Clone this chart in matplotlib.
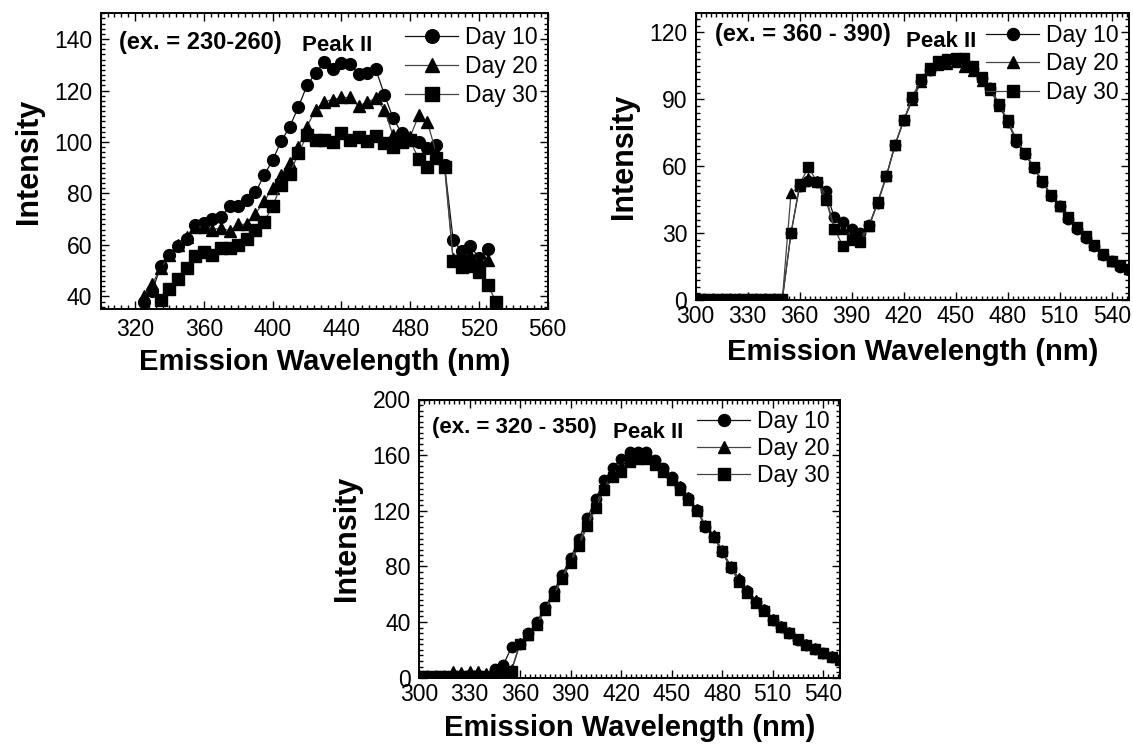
import matplotlib
matplotlib.use("Agg")
import matplotlib.pyplot as plt
from matplotlib.ticker import MultipleLocator, AutoMinorLocator

plt.rcParams['font.family'] = ['Liberation Sans', 'DejaVu Sans']

# ---------------- Panel 1: ex. = 230-260 ----------------
p1_x_d10 = [325, 330, 335, 340, 345, 350, 355, 360, 365, 370, 375, 380, 385, 390, 395, 400,
            405, 410, 415, 420, 425, 430, 435, 440, 445, 450, 455, 460, 465, 470, 475, 480,
            485, 490, 495, 500, 505, 510, 515, 520, 525]
p1_day10 = [38, 42, 52, 56, 59.7, 62.5, 67.7, 68.5, 70, 71, 75, 75, 77.5, 80.4, 87, 93,
            100.3, 106, 113.6, 122, 126.8, 131, 128.5, 130.6, 130.4, 126.5, 127, 128.3, 118.4,
            109.4, 103.5, 100.6, 100, 97.8, 98.7, 91, 62, 57.5, 59.5, 55, 58.5]
p1_x_d20 = p1_x_d10
p1_day20 = [40, 45, 51, 56, 60, 63, 67, 67, 66, 66.5, 65.5, 68, 68, 72, 77, 82, 87, 92, 98,
            106, 112.6, 115.6, 116.5, 117.3, 117.3, 113.9, 115.6, 116.9, 112.6, 102.6, 101,
            102, 110.4, 107.8, 96.1, 91, 54.6, 56.5, 56, 53.9, 54.2]
p1_x_d30 = [335, 340, 345, 350, 355, 360, 365, 370, 375, 380, 385, 390, 395, 400, 405, 410,
            415, 420, 425, 430, 435, 440, 445, 450, 455, 460, 465, 470, 475, 480, 485, 490,
            495, 500, 505, 510, 515, 520, 525, 530]
p1_day30 = [38.5, 43, 46.8, 51, 55.9, 57.4, 56.1, 58.7, 58.7, 60, 62.3, 65.8, 69, 75, 83.4,
            87.7, 95.6, 102.7, 100.7, 100.7, 100, 103.5, 100.6, 102, 100.5, 102.3, 99.8, 98.2,
            100.1, 100.6, 93.3, 90.4, 93.6, 90.4, 53.9, 51.6, 52, 49.5, 44.5, 38]

# ---------------- Panels 2 & 3 share wavelength grid ----------------
wl = [300, 305, 310, 315, 320, 325, 330, 335, 340, 345, 350, 355, 360, 365, 370, 375, 380,
      385, 390, 395, 400, 405, 410, 415, 420, 425, 430, 435, 440, 445, 450, 455, 460, 465,
      470, 475, 480, 485, 490, 495, 500, 505, 510, 515, 520, 525, 530, 535, 540, 545, 550]

# Panel 2: ex. = 360 - 390
p2_day10 = [0.5, 0.5, 0.5, 0.5, 0.5, 0.5, 0.5, 0.5, 0.5, 0.5, 0.5, 30, 51, 53.5, 53, 49, 37,
            35, 32, 30, 33.5, 43.5, 55.5, 69.5, 80.5, 90, 98, 103, 106, 107.5, 107.5, 106.5,
            103.5, 99.5, 95, 87.5, 80, 71, 65.5, 59, 53, 46.5, 42, 36.5, 32, 28, 24, 20, 17.5,
            15, 13.5]
p2_day20 = [0.5, 0.5, 0.5, 0.5, 0.5, 0.5, 0.5, 0.5, 0.5, 0.5, 0.5, 48, 51, 54.5, 53.5, 47, 32,
            32, 29, 28, 33, 43.5, 55.5, 69.5, 80.5, 89.5, 97.5, 103, 105.5, 106, 106.5, 104.5,
            102.5, 98, 94, 87, 80, 71.5, 66, 59.5, 53.5, 47, 42, 37, 32.5, 28.5, 24.5, 20.5,
            17.5, 15.5, 14]
p2_day30 = [0.5, 0.5, 0.5, 0.5, 0.5, 0.5, 0.5, 0.5, 0.5, 0.5, 0.5, 30, 52, 59.5, 53, 45, 32,
            24, 27, 26, 33, 44, 55.5, 69.5, 80.5, 91, 99, 104, 107, 108, 108.5, 108.5, 105,
            100, 95, 88, 80.5, 72, 66, 59.5, 53.5, 47, 42, 37, 32.5, 28.5, 24.5, 20.5, 17.5,
            15.5, 14]

# Panel 3: ex. = 320 - 350
p3_day10 = [1.5, 1.5, 1.5, 1.5, 1.5, 1.5, 1.5, 1.5, 1.5, 6.5, 9, 22, 24.5, 32, 40, 51, 62, 74,
            86, 99.5, 115, 128.5, 142, 150.5, 157.5, 162, 162, 162, 156.5, 150.5, 144.5, 137,
            129.5, 120.5, 108.5, 101, 90.5, 79, 70, 62, 54.5, 48.5, 41.5, 36.5, 32, 27, 23.5,
            20.5, 17.5, 15, 13]
p3_day20 = [1.5, 1.5, 1.5, 1.5, 5, 4, 5, 4.5, 3.5, 4, 6, 6, 25, 31, 39, 50, 60, 72.5, 84, 97,
            111, 125, 137, 146, 153, 158, 159, 159, 155, 150, 144, 137.5, 130, 121, 110, 102.5,
            92, 80.5, 71.5, 63, 56, 49.5, 42.5, 37.5, 33, 28, 24.5, 21, 18, 15.5, 13.5]
p3_day30 = [1.5, 1.5, 1.5, 1.5, 1.5, 1.5, 1.5, 1.5, 1.5, 3, 5, 5, 24, 30.5, 38, 49, 59, 71,
            82.5, 95, 109, 122, 135, 144, 148, 155, 157, 157, 153, 148, 142, 135, 128, 120,
            109, 101, 91, 79.5, 69, 61, 54, 48, 41.5, 36.5, 32, 27.5, 23.5, 20.5, 17.5, 15, 13]

labels = ["Day 10", "Day 20", "Day 30"]
markers = ["o", "^", "s"]
line_colors = ["#111111", "#444444", "#444444"]

W, H = 1133, 745
fig = plt.figure(figsize=(W / 100, H / 100), dpi=100)


def make_axes(l, r, t, b):
    return fig.add_axes([l / W, 1 - b / H, (r - l) / W, (b - t) / H])


def style(ax, xlim, ylim, xmaj, ymaj, xpad, xlabpad):
    ax.set_xlim(*xlim)
    ax.set_ylim(*ylim)
    ax.xaxis.set_major_locator(MultipleLocator(xmaj))
    ax.yaxis.set_major_locator(MultipleLocator(ymaj))
    ax.xaxis.set_minor_locator(AutoMinorLocator(10))
    ax.yaxis.set_minor_locator(AutoMinorLocator(10))
    ax.tick_params(which='both', direction='in', top=True, right=True, width=1.0)
    ax.tick_params(which='major', length=6, labelsize=16.5)
    ax.tick_params(which='minor', length=3)
    ax.tick_params(axis='x', which='major', pad=xpad)
    ax.tick_params(axis='y', which='major', pad=6)
    for sp in ax.spines.values():
        sp.set_linewidth(1.4)
    ax.set_xlabel("Emission Wavelength (nm)", fontsize=21, fontweight='bold', labelpad=xlabpad)
    ax.set_ylabel("Intensity", fontsize=22, fontweight='bold', labelpad=7.5)


def draw(ax, xs, ys, ms, top_px, ax_h_px, spacing):
    for x, y, m, c, lab in zip(xs, ys, markers, line_colors, labels):
        ax.plot(x, y, marker=m, color=c, markerfacecolor='black', markeredgecolor='black',
                markersize=ms, linewidth=0.9, label=lab)
    ax.legend(loc='upper right', bbox_to_anchor=(1.0, 1 - top_px / ax_h_px),
              frameon=False, fontsize=16.5, handlelength=2.3,
              handletextpad=0.3, labelspacing=spacing, borderaxespad=0.45, borderpad=0.0,
              markerscale=1.15)


# Panel 1
ax1 = make_axes(100.7, 547.7, 13.3, 309.3)
draw(ax1, [p1_x_d10, p1_x_d20, p1_x_d30], [p1_day10, p1_day20, p1_day30], 8.5, 2, 296, 0.27)
style(ax1, (300, 560), (35, 150), 40, 20, 6, 5)
ax1.text(0.04, 0.9, "(ex. = 230-260)", transform=ax1.transAxes, fontsize=17,
         fontweight='bold', va='center', ha='left')
ax1.text(0.45, 0.89, "Peak II", transform=ax1.transAxes, fontsize=16,
         fontweight='bold', va='center', ha='left')

# Panel 2
ax2 = make_axes(695.7, 1129, 13.3, 300)
draw(ax2, [wl, wl, wl], [p2_day10, p2_day20, p2_day30], 7.5, 0, 286.7, 0.24)
style(ax2, (300, 550), (0, 128.5), 30, 30, 3.5, 7.5)
ax2.text(0.045, 0.925, "(ex. = 360 - 390)", transform=ax2.transAxes, fontsize=17,
         fontweight='bold', va='center', ha='left')
ax2.text(0.485, 0.9, "Peak II", transform=ax2.transAxes, fontsize=16,
         fontweight='bold', va='center', ha='left')

# Panel 3
ax3 = make_axes(419, 840, 399.5, 677.7)
draw(ax3, [wl, wl, wl], [p3_day10, p3_day20, p3_day30], 7.5, 0, 278.2, 0.18)
style(ax3, (300, 550), (0, 200), 30, 40, 3.5, 6)
ax3.text(0.03, 0.9, "(ex. = 320 - 350)", transform=ax3.transAxes, fontsize=16,
         fontweight='bold', va='center', ha='left')
ax3.text(0.46, 0.88, "Peak II", transform=ax3.transAxes, fontsize=16,
         fontweight='bold', va='center', ha='left')

fig.savefig("out.png", dpi=100)
